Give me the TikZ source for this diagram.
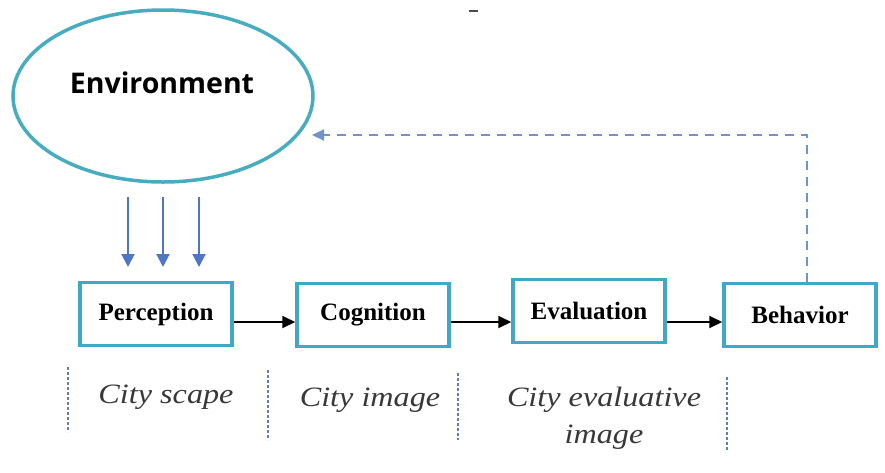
\documentclass[tikz,border=0pt]{standalone}
\usepackage{fontspec}
\setmainfont{Liberation Serif}
\newfontfamily\envfont{Open Sans}
\newfontfamily\notefont[FakeStretch=1.15]{Liberation Serif}
\usetikzlibrary{arrows.meta, positioning, shapes.geometric}
\definecolor{boxteal}{RGB}{64,168,198}
\definecolor{envteal}{RGB}{72,172,192}
\definecolor{inblue}{RGB}{78,118,196}
\definecolor{backblue}{RGB}{112,146,205}
\definecolor{sepblue}{RGB}{95,125,178}

\begin{document}
\begin{tikzpicture}[x=1pt, y=-1pt,
    stage/.style={draw=boxteal, line width=3.5pt, minimum width=152pt, minimum height=63pt,
      inner sep=0pt, font=\fontsize{25}{27}\selectfont\bfseries},
    note/.style={font=\notefont\fontsize{28}{37}\selectfont\itshape, text=black!78, align=center},
    flow/.style={-{Triangle[length=13pt, width=12pt]}, line width=2pt},
    inflow/.style={-{Triangle[length=13pt, width=13pt]}, line width=2pt, inblue},
    back/.style={-{Triangle[length=12pt, width=11pt]}, line width=2pt, backblue, dash pattern=on 9pt off 7pt},
    sepline/.style={line width=1.6pt, sepblue, dash pattern=on 3pt off 2pt}]
    \useasboundingbox (0,0) rectangle (885,472);

    % environment
    \node[draw=envteal, ellipse, line width=3.5pt, minimum width=300pt, minimum height=172pt] (env) at (163,96) {};
    \node[font=\envfont\fontsize{28.5}{30}\selectfont\bfseries] (envtext) at (162,83) {Environment};

    % stages
    \node[stage] (per) at (156,314) {Perception};
    \node[stage] (cog) at (373,315) {Cognition};
    \node[stage] (eva) at (589,311) {Evaluation};
    \node[stage] (beh) at (800,315) {Behavior};

    \draw[flow] (per.east |- 0,322) -- (cog.west |- 0,322);
    \draw[flow] (cog.east |- 0,322) -- (eva.west |- 0,322);
    \draw[flow] (eva.east |- 0,322) -- (beh.west |- 0,322);

    % input from environment
    \foreach \x [count=\i] in {128,163,199} {
      \coordinate (in\i) at (\x,197);
      \draw[inflow] (in\i) -- ++(0,70);
    }

    % feedback
    \coordinate (turn) at (807,135);
    \coordinate (tip) at (312,135);
    \draw[back] (turn |- beh.north) -- (turn) -- (tip);

    % separators
    \draw[sepline] (68,367) -- (68,432);
    \draw[sepline] (268,370) -- (268,440);
    \draw[sepline] (458,373) -- (458,440);
    \draw[sepline] (727,377) -- (727,450);

    \node[note] (scape) at (166,397) {City scape};
    \node[note] (image) at (370,400) {City image};
    \node[note] (evalimg) at (604,418) {City evaluative\\image};

    \draw[line width=1.5pt, black!70] (469,11) -- (478,11);
  \end{tikzpicture}
\end{document}
